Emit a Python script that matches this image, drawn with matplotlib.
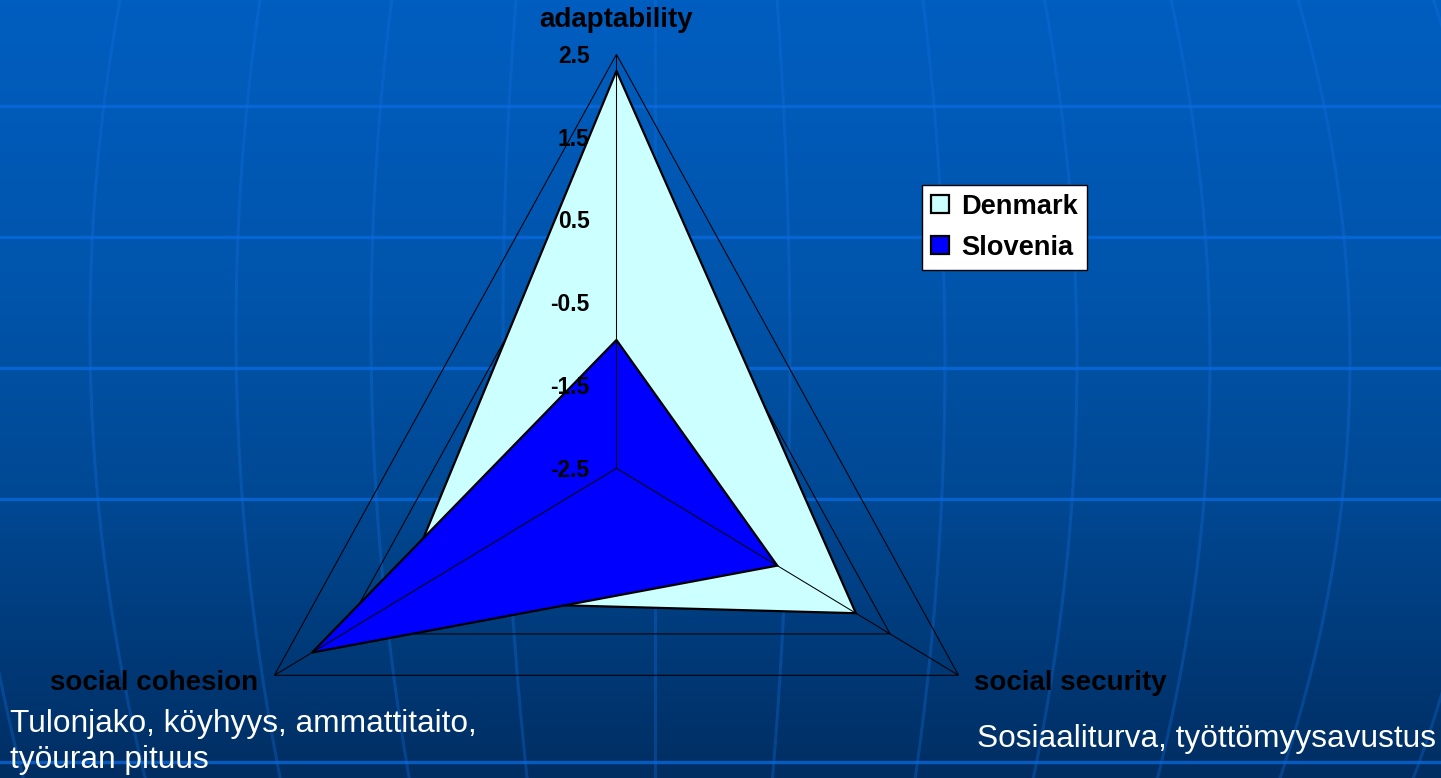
import numpy as np
import matplotlib
matplotlib.use("Agg")
import matplotlib.pyplot as plt
import matplotlib.transforms as mtrans
from matplotlib.colors import LinearSegmentedColormap

plt.rcParams['font.family'] = ['Liberation Sans', 'DejaVu Sans']

# data
categories = ['adaptability', 'social security', 'social cohesion']
denmark = [2.3, 1.0, 0.7]
slovenia = [-0.95, -0.15, 1.95]
ticks = [-2.5, -1.5, -0.5, 0.5, 1.5, 2.5]
tick_labels = ['-2.5', '-1.5', '-0.5', '0.5', '1.5', '2.5']
series_names = ['Denmark', 'Slovenia']
note_left = ['Tulonjako, köyhyys, ammattitaito,', 'työuran pituus']
note_right = 'Sosiaaliturva, työttömyysavustus'

W, H = 1441, 778
fig = plt.figure(figsize=(W / 100, H / 100), dpi=100)

# background: blue gradient with a globe-like grid
bg = fig.add_axes([0, 0, 1, 1], zorder=-5)
cmap = LinearSegmentedColormap.from_list(
    'bg', [(0.0, '#005EC0'), (300 / 778, '#0054AA'), (500 / 778, '#004893'), (1.0, '#002E62')])
grad = np.linspace(0, 1, 256).reshape(-1, 1)
bg.imshow(grad, cmap=cmap, aspect='auto', extent=[0, W, H, 0])
bg.set_xlim(0, W)
bg.set_ylim(H, 0)
bg.axis('off')
yy = np.linspace(0, H, 200)
# (x at bulge, curvature, y of bulge); negative curvature bends right
meridians = [(-35, 0.00029, 330), (90, 0.000275, 330), (236, 0.00022, 330),
             (371, 0.00019, 330), (503, 0.00012, 330), (655, 0.0, 330),
             (790, -0.0001, 360), (945, -0.00017, 360), (1077, -0.00025, 360),
             (1210, -0.0003, 360), (1350, -0.0004, 360), (1492, -0.00045, 360)]
for xm, k, y0 in meridians:
    bg.plot(xm + k * (yy - y0) ** 2, yy, color='#1472E6', alpha=0.3, lw=2.2)
for hy in [106, 237, 368, 499, 762]:
    bg.axhline(hy, color='#0A6AE0', alpha=0.75, lw=2.4)

# radar chart
ax = fig.add_axes([0.1537, -0.1341, 0.5482, 1.0643], projection='polar')
ax.set_aspect('auto')
ax.patch.set_alpha(0)
ax.set_theta_offset(np.pi / 2)
ax.set_theta_direction(-1)
ax.set_ylim(-2.5, 2.5)
ax.grid(False)
ax.set_xticks([])
ax.set_yticks([])
ax.spines['polar'].set_visible(False)

theta = np.arange(len(categories)) * 2 * np.pi / len(categories)
closed = np.append(theta, theta[0])

for t in ticks:
    ax.plot(closed, [t] * len(closed), color='black', lw=0.75, zorder=1)

dk = ax.fill(closed, denmark + denmark[:1], facecolor='#CCFFFF', edgecolor='black', lw=1.6, zorder=2)[0]
sl = ax.fill(closed, slovenia + slovenia[:1], facecolor='#0000FF', edgecolor='black', lw=1.6, zorder=3)[0]

for th in theta:
    ax.plot([th, th], [ticks[0], ticks[-1]], color='black', lw=0.75, zorder=4)

tick_tr = mtrans.offset_copy(ax.transData, fig=fig, x=-27, y=-8.5, units='dots')
for t, lab in zip(ticks, tick_labels):
    ax.text(0, t, lab, transform=tick_tr, ha='right', va='baseline',
            fontsize=16.5, fontweight='bold', color='black', zorder=5)

label_offsets = [(0, 27.6, 'center'), (15, -15, 'left'), (-16, -15, 'right')]
for th, cat, (dx, dy, ha) in zip(theta, categories, label_offsets):
    tr = mtrans.offset_copy(ax.transData, fig=fig, x=dx, y=dy, units='dots')
    ax.text(th, ticks[-1], cat, transform=tr, ha=ha, va='baseline',
            fontsize=20, fontweight='bold', color='black', zorder=5)

leg = fig.legend([dk, sl], series_names, loc='upper left',
                 bbox_to_anchor=(922 / W, 1 - 184.5 / H), bbox_transform=fig.transFigure,
                 borderaxespad=0, prop={'weight': 'bold', 'size': 19.6},
                 handlelength=0.67, handleheight=0.67, handletextpad=0.44,
                 borderpad=0.34, labelspacing=0.55, fancybox=False, framealpha=1,
                 edgecolor='black', facecolor='white')
leg.get_frame().set_linewidth(1.0)

fig.text(10 / W, 1 - 731.7 / H, note_left[0], color='white', fontsize=22.8, va='baseline', ha='left')
fig.text(10 / W, 1 - 768 / H, note_left[1], color='white', fontsize=22.8, va='baseline', ha='left')
fig.text(977 / W, 1 - 746.7 / H, note_right, color='white', fontsize=22.8, va='baseline', ha='left')

fig.savefig('out.png', dpi=100)
